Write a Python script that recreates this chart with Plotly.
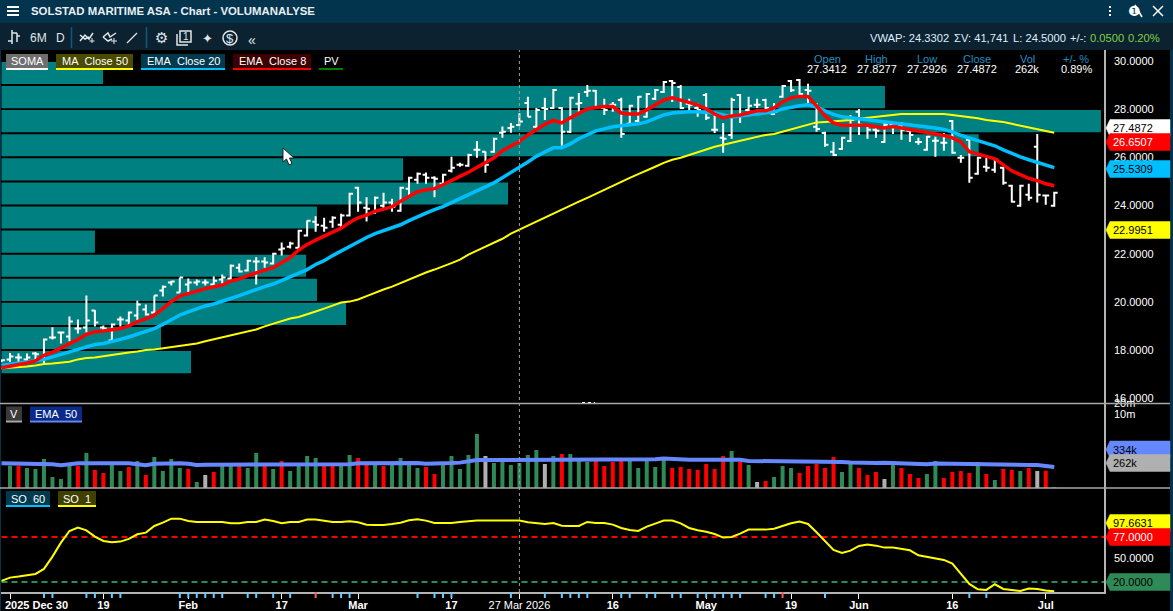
import plotly.graph_objects as go

W, H = 1173, 611

# ---------- data ----------
price_ticks = [16, 18, 20, 22, 24, 26, 28, 30]
so_ticks = [50]
volume_ticks = [10000000, 20000000]
volume_tick_text = ["10m", "20m"]
date_tick_pos = [1, 12, 22, 33, 42, 53, 61, 72, 83, 93, 101, 112, 123]
date_tick_text = ["", "<b>19</b>", "<b>Feb</b>", "<b>17</b>", "<b>Mar</b>", "<b>17</b>", "27 Mar 2026", "<b>16</b>", "<b>May</b>", "<b>19</b>", "<b>Jun</b>", "<b>16</b>", "<b>Jul</b>"]

high = [17.61,17.88,17.86,17.86,17.92,18.48,18.94,18.77,19.39,19.27,20.26,19.66,19.02,19.10,19.39,19.60,20.05,19.89,20.26,20.68,
        20.88,21.01,20.97,20.93,20.93,21.05,21.13,21.55,21.59,21.75,21.85,21.85,22.04,22.46,22.50,22.99,23.38,23.55,23.49,23.55,
        23.66,24.53,24.78,24.34,24.37,24.53,24.28,24.78,25.19,25.37,25.37,25.21,25.32,26.02,25.77,26.15,26.68,26.24,26.81,27.28,
        27.43,27.83,28.51,28.05,28.47,28.84,28.09,28.51,28.67,29.00,28.80,28.43,28.30,28.47,28.18,28.55,28.67,28.84,29.17,29.21,
        29.00,28.43,28.26,28.67,27.89,27.43,28.47,28.63,28.51,28.43,28.43,28.26,29.00,29.21,29.25,29.05,28.26,27.06,26.64,26.85,
        27.76,28.01,27.35,27.27,27.47,27.39,27.47,27.18,26.81,26.89,26.85,27.01,27.55,26.10,26.81,26.02,25.98,25.94,25.61,24.86,
        24.86,24.90,26.97,24.45,24.57]
low = [17.49,17.50,17.49,17.50,17.53,17.44,18.44,18.27,18.36,18.69,18.73,18.98,18.81,18.36,18.98,18.98,19.23,19.43,19.52,20.22,
       20.68,20.39,20.39,20.68,20.68,20.68,20.72,20.93,21.22,21.26,20.72,21.42,21.55,21.92,22.21,22.21,22.71,22.91,22.91,23.08,
       23.08,23.54,23.74,23.34,23.66,23.87,23.74,23.74,24.41,24.90,24.90,24.34,24.86,25.37,25.61,25.61,25.98,25.36,26.19,26.81,
       27.02,27.29,27.68,27.22,27.55,28.01,26.48,27.01,27.89,28.51,28.05,27.76,27.89,26.81,27.35,27.47,27.64,28.38,28.67,28.30,
       28.01,27.84,27.68,27.55,27.01,26.19,26.77,27.43,27.84,28.05,27.89,27.76,28.47,28.71,28.59,28.26,27.06,26.44,26.06,26.31,
       26.64,26.93,26.77,26.81,26.60,26.97,26.73,26.64,26.52,26.27,26.02,26.27,26.15,25.77,24.94,25.28,25.40,25.36,24.86,24.12,
       23.95,24.20,24.12,24.03,23.95]
open_ = [17.53,17.61,17.69,17.61,17.86,17.61,18.52,18.73,18.56,18.89,18.93,19.64,18.93,18.40,19.27,19.23,19.43,19.68,19.56,20.47,
         20.80,20.39,20.72,20.80,20.80,20.72,20.93,20.97,21.42,21.30,21.67,21.67,21.59,22.17,22.29,22.25,22.75,23.33,23.16,23.33,
         23.20,23.58,24.74,23.91,23.70,23.99,24.12,23.78,24.70,25.07,25.28,25.15,24.90,25.44,25.69,25.65,26.31,26.23,26.23,27.02,
         27.22,27.34,28.26,27.27,28.05,28.05,28.05,27.06,28.22,28.71,28.76,28.05,28.18,28.38,27.39,27.51,27.68,28.43,28.71,29.17,
         28.92,28.22,28.05,28.59,27.14,26.81,26.93,28.59,27.97,28.18,28.38,27.80,28.51,29.17,29.21,28.80,27.27,27.01,26.23,26.35,
         26.68,27.89,27.31,27.14,26.64,27.35,27.35,27.10,26.64,26.31,26.69,26.60,27.51,25.98,26.73,25.32,25.61,25.48,25.57,24.82,
         23.99,24.45,26.44,24.41,23.99]
close = [17.57,17.73,17.69,17.69,17.82,18.44,18.52,18.73,19.18,18.89,19.23,19.14,18.89,19.06,19.27,19.56,19.89,19.47,20.26,20.63,
         20.84,21.01,20.80,20.84,20.80,20.88,21.01,21.50,21.26,21.71,21.67,21.63,22.00,22.21,22.42,22.95,23.37,23.20,23.08,23.49,
         23.58,24.49,24.12,23.87,24.32,24.12,23.95,24.74,25.15,25.32,25.15,25.11,25.28,25.57,25.69,26.10,26.31,25.69,26.77,27.06,
         27.27,27.49,27.68,27.97,28.01,28.80,27.06,28.47,28.26,28.76,28.09,27.97,28.18,26.97,28.14,28.51,28.63,28.80,29.13,29.09,
         28.05,28.18,27.97,27.64,27.14,26.77,28.38,27.76,28.14,28.18,28.05,27.89,28.96,28.79,28.63,28.76,27.18,26.52,26.10,26.81,
         27.55,27.35,27.14,27.10,27.35,27.27,27.14,26.93,26.64,26.85,26.69,26.60,26.19,25.98,25.15,25.98,25.57,25.90,24.94,24.16,
         24.82,24.32,24.45,24.41,24.53]

ma_close_50 = [17.24,17.26,17.28,17.32,17.36,17.42,17.44,17.49,17.51,17.61,17.67,17.69,17.75,17.78,17.84,17.90,17.94,18.00,18.02,18.07,
               18.11,18.15,18.19,18.27,18.36,18.44,18.52,18.63,18.69,18.77,18.85,18.98,19.08,19.18,19.31,19.37,19.47,19.60,19.72,19.85,
               19.97,20.01,20.10,20.24,20.39,20.51,20.63,20.78,20.93,21.09,21.22,21.34,21.46,21.61,21.75,21.96,22.13,22.29,22.46,22.62,
               22.83,23.00,23.16,23.33,23.49,23.66,23.83,23.99,24.16,24.32,24.49,24.65,24.82,24.97,25.15,25.30,25.44,25.61,25.77,25.90,
               25.98,26.10,26.23,26.35,26.44,26.52,26.60,26.69,26.77,26.85,26.93,26.97,27.06,27.18,27.27,27.35,27.45,27.47,27.49,27.51,
               27.55,27.60,27.64,27.70,27.74,27.76,27.80,27.80,27.80,27.80,27.80,27.80,27.76,27.72,27.68,27.62,27.55,27.51,27.47,27.39,
               27.31,27.24,27.18,27.10,27.02]
ema_close_20 = [17.36,17.40,17.44,17.49,17.55,17.61,17.73,17.82,17.92,18.02,18.13,18.23,18.27,18.34,18.44,18.54,18.65,18.77,18.89,19.06,
                19.25,19.45,19.58,19.72,19.83,19.91,20.01,20.14,20.26,20.39,20.49,20.63,20.74,20.88,21.03,21.19,21.34,21.55,21.71,21.92,
                22.11,22.33,22.52,22.67,22.83,22.96,23.06,23.20,23.37,23.54,23.68,23.83,23.95,24.12,24.28,24.45,24.61,24.78,24.94,25.15,
                25.36,25.57,25.81,26.04,26.23,26.40,26.40,26.56,26.77,26.93,27.10,27.18,27.27,27.31,27.35,27.39,27.47,27.62,27.76,27.84,
                27.87,27.89,27.89,27.87,27.84,27.76,27.68,27.72,27.76,27.78,27.84,27.89,28.01,28.09,28.14,28.18,28.09,27.93,27.78,27.68,
                27.64,27.58,27.53,27.49,27.45,27.43,27.39,27.35,27.31,27.27,27.22,27.16,27.06,26.91,26.81,26.69,26.58,26.48,26.31,26.15,
                26.02,25.90,25.79,25.69,25.57]
ema_close_8 = [17.26,17.32,17.40,17.46,17.55,17.78,17.90,18.07,18.27,18.44,18.65,18.76,18.79,18.83,18.89,19.00,19.18,19.29,19.45,19.72,
               20.01,20.24,20.34,20.47,20.55,20.63,20.70,20.86,20.95,21.09,21.22,21.32,21.42,21.63,21.84,22.15,22.38,22.56,22.73,22.87,
               23.06,23.29,23.49,23.60,23.76,23.85,23.95,24.18,24.39,24.57,24.65,24.70,24.86,25.05,25.21,25.38,25.57,25.75,25.98,26.27,
               26.48,26.66,26.93,27.14,27.37,27.53,27.43,27.64,27.84,28.01,28.07,28.11,28.11,27.84,27.80,27.80,27.97,28.18,28.38,28.47,
               28.38,28.30,28.18,28.01,27.80,27.64,27.72,27.76,27.84,27.93,27.93,28.05,28.30,28.47,28.53,28.53,28.14,27.72,27.43,27.33,
               27.33,27.33,27.33,27.27,27.22,27.28,27.22,27.16,27.10,27.02,26.97,26.91,26.81,26.64,26.23,26.15,26.04,25.94,25.69,25.44,
               25.28,25.13,25.03,24.90,24.82]

soma_levels = [29.5,28.5,27.5,26.5,25.5,24.5,23.5,22.5,21.5,20.5,19.5,18.5,17.5]
soma_lengths = [11.96,104.06,129.5,115.1,47.3,59.66,37.16,11.0,35.87,37.16,40.58,18.79,22.32]

volume_k = [None,364,364,313,294,557,176,155,379,364,818,276,228,379,259,334,490,200,633,259,
            557,313,294,128,200,243,356,356,356,313,818,356,294,490,259,356,675,594,379,379,
            379,719,594,405,379,356,405,594,379,313,334,214,379,675,294,719,2756,675,431,460,
            379,431,719,992,405,675,767,767,594,460,490,356,460,490,522,313,522,334,522,313,
            334,294,276,405,294,675,930,460,379,128,136,176,356,313,228,356,405,313,633,243,
            405,313,200,243,155,379,313,214,165,214,490,165,243,259,228,460,214,145,294,276,
            259,313,259,262,91]
volume_kind = ['n','g','r','g','g','g','g','g','g','r','g','r','r','g','g','r','g','r','g','g',
               'g','g','r','g','n','r','g','g','r','g','g','r','g','r','g','g','g','g','r','r',
               'g','g','r','r','g','r','g','g','g','g','r','r','g','g','g','g','g','n','g','g',
               'g','g','g','g','n','g','r','g','g','g','r','r','r','r','g','g','g','g','g','r',
               'r','r','r','r','r','r','g','r','g','n','r','g','g','g','r','r','r','r','r','g',
               'g','r','r','r','n','g','r','r','r','g','g','r','r','r','r','g','r','g','r','r',
               'g','r','n','r','g']
volume_ema_k = [422,422,422,422,422,422,400,372,400,422,422,422,422,422,422,422,395,372,410,422,
                422,422,410,380,385,385,385,385,385,385,385,385,385,385,385,385,385,385,385,385,
                385,400,422,422,422,422,422,441,441,431,413,413,420,430,441,490,522,522,522,522,
                522,522,530,544,544,544,544,544,544,544,544,544,544,544,544,544,544,544,570,545,
                530,530,530,530,530,530,530,530,490,490,490,490,490,470,460,460,460,460,460,460,
                445,431,431,431,435,431,420,405,395,400,420,415,405,395,390,385,379,379,379,379,
                379,379,379,355,334]

so_1 = [21.3,25.5,26.8,28.1,30.2,36.5,52.1,69.8,84.6,88.8,85.4,77.4,71.9,70.2,71.1,74.5,80.4,82.5,90.9,95.1,
        100.2,100.2,97.2,96.0,96.0,96.0,96.0,94.3,94.3,96.0,96.0,99.0,97.2,94.3,96.0,96.0,99.0,99.0,97.2,96.0,
        96.0,96.8,95.6,92.6,92.2,92.2,93.5,95.1,98.1,99.4,97.7,94.7,94.7,94.7,96.0,97.2,97.7,97.7,97.7,97.7,
        98.5,97.7,95.6,94.3,93.5,94.7,91.3,90.9,90.9,96.0,94.7,94.7,92.6,88.4,85.9,84.6,90.1,93.9,97.7,97.7,
        94.3,88.4,85.4,83.7,80.8,76.2,77.0,81.2,86.3,86.3,86.3,87.5,90.9,94.3,96.4,93.5,82.9,71.1,60.5,56.7,
        59.7,65.6,67.3,66.0,63.5,63.5,61.8,60.1,53.8,51.7,49.2,47.9,43.2,31.0,17.5,10.8,9.9,17.1,11.2,9.9,
        8.7,11.6,11.2,9.1,8.2]
so_upper_level = 77
so_lower_level = 20
event_blue = [5,6,10,11,13,14,21,22,23,24,25,26,29,30,32,34,39,40,41,49,51,52,53,60,64,66,67,68,69,73,74,76,77,79,80,82,83,84,85,86,87,90,91,97,114,116]
event_red = [37,92]

# ---------- colours ----------
TEAL = "#008080"; YEL = "#ffff00"; BLUE = "#00bfff"; RED = "#ff0000"; SEA = "#2e8b57"; VBLUE = "#6688ff"; GREY = "#b0b0b0"
BAR = "#03344e"; TOOL = "#0d2230"; LINE = "#b4b4b4"
FONT = "Liberation Sans"

def fx(p): return p / W
def fy(p): return 1 - p / H

shapes, notes = [], []

def rect(x0, y0, x1, y1, fill, line=None, w=1):
    shapes.append(dict(type="rect", xref="paper", yref="paper", x0=fx(x0), x1=fx(x1), y0=fy(y0), y1=fy(y1),
                       fillcolor=fill, line=dict(color=line or fill, width=w if line else 0)))

def seg(x0, y0, x1, y1, color, w=1, dash="solid"):
    shapes.append(dict(type="line", xref="paper", yref="paper", x0=fx(x0), x1=fx(x1), y0=fy(y0), y1=fy(y1),
                       line=dict(color=color, width=w, dash=dash)))

def poly(pts, color=None, fill=None, w=1.5):
    d = "M " + " L ".join(f"{fx(a):.5f} {fy(b):.5f}" for a, b in pts)
    if fill:
        d += " Z"
    shapes.append(dict(type="path", xref="paper", yref="paper", path=d, fillcolor=fill or "rgba(0,0,0,0)",
                       line=dict(color=color or fill, width=w)))

def txt(x, y, s, size=11, color="#ffffff", anchor="left", font=FONT):
    notes.append(dict(xref="paper", yref="paper", x=fx(x), y=fy(y), text=s, showarrow=False, xanchor=anchor,
                      yanchor="middle", borderpad=0, font=dict(family=font, size=size, color=color)))

# frame and bars
rect(0, 0, W, 23, BAR)
rect(0, 23, W, 50, TOOL)
rect(1170, 50, W, H, BAR)
rect(0, 50, 1, H, BAR)

# title bar
for y in (7, 11, 15):
    seg(7, y, 19, y, "#ffffff", 2)
txt(30, 11, "<b>SOLSTAD MARITIME ASA - Chart - VOLUMANALYSE</b>", 11.4, "#e8eef2")
for y in (7, 11, 15):
    rect(1109, y - 1, 1111, y + 1, "#ffffff")
txt(1134, 11, "❶", 14, "#ffffff", "center", "DejaVu Sans")
seg(1135, 5, 1142, 17, "#ffffff", 1.5)
seg(1153, 6, 1163, 16, "#ffffff", 1.5)
seg(1163, 6, 1153, 16, "#ffffff", 1.5)

# toolbar
ICON = "#dfe6ea"
seg(12, 30, 12, 44, ICON, 1.5); seg(8, 41, 12, 41, ICON, 1.5)
seg(17, 33, 17, 42, ICON, 1.5); seg(17, 36, 20, 36, ICON, 1.5); seg(12, 33, 17, 33, ICON, 1.5)
txt(38, 38, "6M", 12, ICON, "center")
txt(60, 38, "D", 12, ICON, "center")
seg(71.5, 27, 71.5, 48, "#0a5a80", 1.5)
seg(146.5, 27, 146.5, 48, "#0a5a80", 1.5)
poly([(80, 41), (85, 35), (89, 39), (93, 33)], ICON)
poly([(80, 35), (85, 39), (89, 37)], ICON)
seg(92, 43, 92, 38, ICON, 1); seg(89.5, 41, 94.5, 41, ICON, 1)
poly([(103, 37), (108, 33), (110, 37), (116, 33)], ICON)
poly([(103, 37), (108, 41), (112, 39)], ICON)
seg(114, 44, 114, 38, ICON, 1); seg(111, 41, 117, 41, ICON, 1)
seg(127, 43, 137, 33, ICON, 1.2)
txt(161, 38, "⚙", 15, ICON, "center", "DejaVu Sans")
rect(180, 31, 191, 42, "rgba(0,0,0,0)", ICON, 1.5)
poly([(177, 34), (177, 45), (188, 45)], ICON)
txt(185.5, 36.5, "1", 10, ICON, "center")
txt(207, 38, "✦", 13, ICON, "center", "DejaVu Sans")
txt(230, 38, "$", 13, ICON, "center")
shapes.append(dict(type="circle", xref="paper", yref="paper", x0=fx(223), x1=fx(237), y0=fy(31), y1=fy(45),
                   line=dict(color=ICON, width=1.5)))
txt(252, 40, "«", 14, ICON, "center")

# quote strip
STR = "#dcefff"
txt(869, 38, "VWAP: 24.3302", 11.2, STR)
txt(952.5, 38, "ΣV: 41,741", 11.2, STR)
txt(1012, 38, "L: 24.5000", 11.2, STR)
txt(1069, 38, "+/-:", 11.2, STR)
txt(1088.5, 38, "0.0500", 11.2, "#7ed044")
txt(1127, 38, "0.20%", 11.2, "#7ed044")

# header readout
HDR = "#1e8fc4"
for cx, h, v in [(827, "Open", "27.3412"), (877, "High", "27.8277"), (927, "Low", "27.2926"),
                 (977, "Close", "27.4872"), (1027, "Vol", "262k"), (1076, "+/- %", "0.89%")]:
    txt(cx, 59, h, 11, HDR, "center")
    txt(cx, 69.5, v, 11, "#ffffff", "center")

# indicator chips
def chip(x0, x1, y0, label, bg, ul):
    rect(x0, y0, x1, y0 + 14, bg)
    rect(x0, y0 + 14, x1, y0 + 16, ul)
    txt((x0 + x1) / 2, y0 + 7.5, label, 11, "#ffffff", "center")

chip(6, 48, 54, "SOMA", "#6e6e6e", "#ffffff")
chip(56, 133, 54, "MA\u00a0 Close 50", "#4a4a00", YEL)
chip(141, 225, 54, "EMA\u00a0 Close 20", "#003a4e", BLUE)
chip(233, 311, 54, "EMA\u00a0 Close 8", "#3c0000", RED)
chip(319, 343, 54, "PV", "#000000", "#008000")
chip(6, 22, 406.5, "V", "#3a3a3a", "#aaaaaa")
chip(30, 82, 406.5, "EMA\u00a0 50", "#0a2a8a", VBLUE)
chip(6, 50, 491, "SO\u00a0 60", "#003a4e", BLUE)
chip(58, 96, 491, "SO\u00a0 1", "#404000", YEL)

# panel lines
seg(0, 403.5, 1170, 403.5, "#a8a8a8", 1.6)
seg(0, 488, 1170, 488, "#a8a8a8", 1.6)
seg(582, 402.5, 595, 402.5, "#ffffff", 1, "dot")

# value tags
def tag(yc, label, bg, fg):
    poly([(1106, yc), (1110, yc - 8.5), (1170, yc - 8.5), (1170, yc + 8.5), (1110, yc + 8.5)], fill=bg, w=0.5)
    txt(1112, yc, label, 11, fg)

tag(128, "27.4872", "#ffffff", "#000000")
tag(142, "26.6507", RED, "#ffffff")
tag(169, "25.5309", BLUE, "#000000")
tag(230, "22.9951", YEL, "#000000")
tag(449.5, "334k", VBLUE, "#000000")
tag(463, "262k", GREY, "#000000")
tag(523, "97.6631", YEL, "#000000")
tag(537, "77.0000", RED, "#ffffff")
tag(582, "20.0000", SEA, "#000000")

# mouse pointer
poly([(283, 148), (283, 162), (286.5, 159), (289, 165), (292, 163.5), (289.5, 158), (294, 158)], color="#222222", fill="#ffffff", w=1)

txt(36, 605, "<b>2025 Dec 30</b>", 11, "#ffffff", "center")

# crosshair
shapes.append(dict(type="line", xref="x", yref="paper", x0=61, x1=61, y0=fy(592), y1=fy(50),
                   line=dict(color="#a0a0a0", width=1, dash="dot")))

# ---------- traces ----------
idx = list(range(len(close)))
fig = go.Figure()
fig.add_trace(go.Bar(x=soma_lengths, y=soma_levels, orientation="h", width=0.92, marker=dict(color=TEAL, line=dict(width=0)),
                     xaxis="x", yaxis="y", name="SOMA"))
fig.add_trace(go.Ohlc(x=idx, open=open_, high=high, low=low, close=close, tickwidth=0.4,
                      increasing=dict(line=dict(color="#ffffff", width=2)),
                      decreasing=dict(line=dict(color="#ffffff", width=2)), xaxis="x", yaxis="y", name="PV"))
fig.add_trace(go.Scatter(x=idx, y=ma_close_50, mode="lines", line=dict(color=YEL, width=2), xaxis="x", yaxis="y", name="MA Close 50"))
fig.add_trace(go.Scatter(x=idx, y=ema_close_20, mode="lines", line=dict(color=BLUE, width=3.5), xaxis="x", yaxis="y", name="EMA Close 20"))
fig.add_trace(go.Scatter(x=idx, y=ema_close_8, mode="lines", line=dict(color=RED, width=3.5), xaxis="x", yaxis="y", name="EMA Close 8"))

kind_color = {"g": SEA, "r": RED, "n": GREY}
fig.add_trace(go.Bar(x=idx, y=[None if v is None else v * 1000 for v in volume_k], width=0.47,
                     marker=dict(color=[kind_color[k] for k in volume_kind], line=dict(width=0)),
                     xaxis="x", yaxis="y2", name="V"))
fig.add_trace(go.Scatter(x=idx, y=[v * 1000 for v in volume_ema_k], mode="lines", line=dict(color=VBLUE, width=4),
                         xaxis="x", yaxis="y2", name="EMA 50"))

fig.add_trace(go.Scatter(x=[0, 129.86], y=[so_upper_level] * 2, mode="lines", line=dict(color=RED, width=2, dash="6px,4px"),
                         xaxis="x", yaxis="y3", name="77"))
fig.add_trace(go.Scatter(x=[0, 129.86], y=[so_lower_level] * 2, mode="lines", line=dict(color=SEA, width=2, dash="6px,4px"),
                         xaxis="x", yaxis="y3", name="20"))
fig.add_trace(go.Scatter(x=idx, y=so_1, mode="lines", line=dict(color=YEL, width=2), xaxis="x", yaxis="y3", name="SO 1"))

fig.add_trace(go.Scatter(x=event_blue, y=[0.5] * len(event_blue), mode="markers",
                         marker=dict(symbol="line-ns", size=6, line=dict(color="#66ccff", width=2)), xaxis="x", yaxis="y4", name="events"))
fig.add_trace(go.Scatter(x=event_red, y=[0.5] * len(event_red), mode="markers",
                         marker=dict(symbol="line-ns", size=6, line=dict(color="#ff5a5a", width=2)), xaxis="x", yaxis="y4", name="events"))

tick_font = dict(family=FONT, size=11, color="#ffffff")
fig.update_layout(
    width=W, height=H, margin=dict(l=0, r=0, t=0, b=0, pad=0), paper_bgcolor="#000000", plot_bgcolor="#000000",
    showlegend=False, barmode="overlay", shapes=shapes, annotations=notes, hovermode=False,
    xaxis=dict(domain=[fx(1), fx(1104)], range=[-0.06, 129.86], anchor="y3", rangeslider=dict(visible=False),
               tickmode="array", tickvals=date_tick_pos, ticktext=date_tick_text, ticks="outside", ticklen=5,
               tickcolor="#ffffff", tickwidth=1, tickfont=tick_font, showgrid=False, zeroline=False,
               showline=True, linecolor=LINE, linewidth=1.5, automargin=False, ticklabelstandoff=-3),
    yaxis=dict(domain=[fy(403), fy(50)], range=[15.8, 30.456], side="right", anchor="x", tickmode="array",
               tickvals=price_ticks, tickformat=".4f", tickfont=tick_font, showgrid=False, zeroline=False,
               showline=True, linecolor=LINE, linewidth=1.5, ticks="", automargin=False, ticklabelstandoff=6),
    yaxis2=dict(domain=[fy(488), fy(402.8)], type="log", range=[4.9404, 7.305], side="right", anchor="x", tickmode="array",
                tickvals=volume_ticks, ticktext=volume_tick_text, tickfont=tick_font, showgrid=False, zeroline=False,
                showline=True, linecolor=LINE, linewidth=1.5, ticks="", automargin=False, ticklabelstandoff=6),
    yaxis3=dict(domain=[fy(592), fy(488)], range=[7.3, 139], side="right", anchor="x", tickmode="array",
                tickvals=so_ticks, tickformat=".4f", tickfont=tick_font, showgrid=False, zeroline=False,
                showline=True, linecolor=LINE, linewidth=1.5, ticks="", automargin=False, ticklabelstandoff=6),
    yaxis4=dict(domain=[fy(598), fy(592)], range=[0, 1], visible=False, anchor="x", fixedrange=True),
)
fig.write_html("out.html", config=dict(displayModeBar=False),
               post_script="document.body.style.margin='0';document.body.style.overflow='hidden';")
